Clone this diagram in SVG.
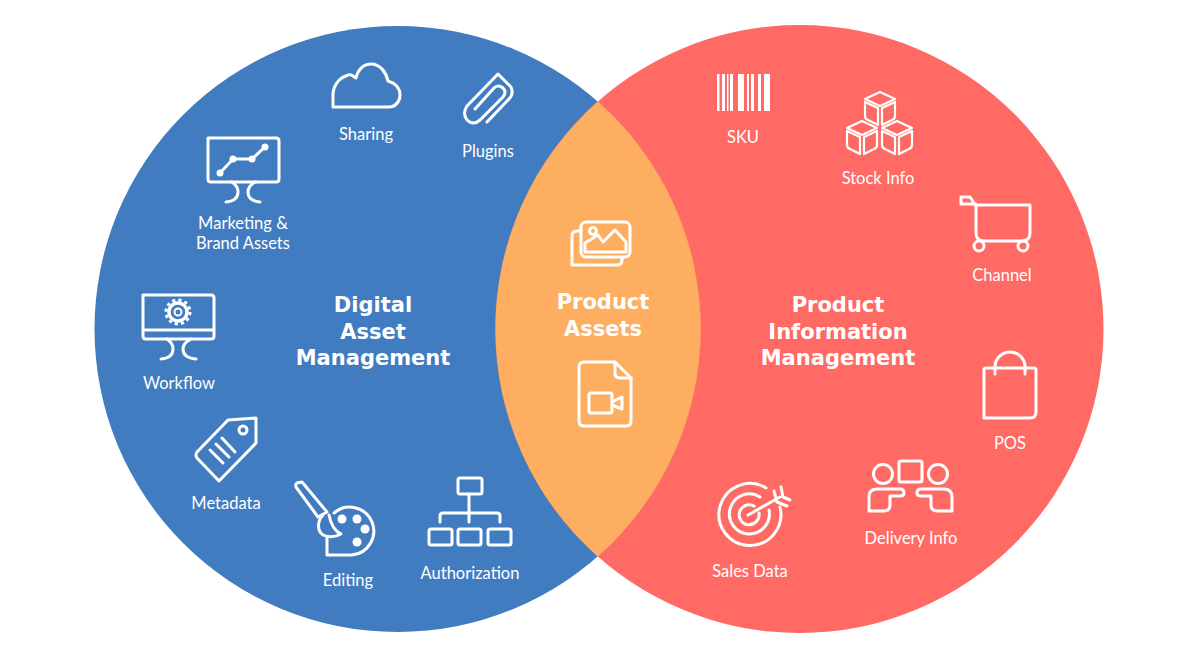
<svg xmlns="http://www.w3.org/2000/svg" width="1184" height="666" viewBox="0 0 1184 666">
<style>
.i{fill:none;stroke:#fff;stroke-width:3;stroke-linecap:round;stroke-linejoin:round}
.c{fill:none;stroke:#fff;stroke-width:2.2;stroke-linecap:round;stroke-linejoin:round}
.f{fill:#fff;stroke:none}
.l{font-family:"Lato","Noto Sans",sans-serif;font-size:16.5px;fill:#fff;text-anchor:middle}
.t{font-family:"DejaVu Sans",sans-serif;font-size:21px;font-weight:700;fill:#fff;text-anchor:middle}
</style>
<defs>
<g id="cube" class="c"><path d="M0 0L15 7L0 14L-15 7Z"/><path d="M-15 10V24Q-15 27-12 28L-2 33V16L-15 10M15 10V24Q15 27 12 28L2 33V16L15 10"/></g>
</defs>
<rect width="1184" height="666" fill="#fff"/>
<circle id="dam-circle" cx="397.500" cy="329" r="303" fill="#417cc0"/>
<circle id="pim-circle" cx="799.500" cy="329" r="304" fill="#ff6a64"/>
<path id="overlap" d="M597.750 101.600A303 303 0 0 1 597.750 556.400A304 304 0 0 1 597.750 101.600Z" fill="#fdae61" stroke="#fdae61" stroke-width=".4"/>

<g id="dam-title"><text class="t"><tspan x="373" y="312">Digital</tspan><tspan x="373" y="339">Asset</tspan><tspan x="373" y="365">Management</tspan></text></g>
<g id="assets-title"><text class="t"><tspan x="603" y="309">Product</tspan><tspan x="603" y="336">Assets</tspan></text></g>
<g id="pim-title"><text class="t"><tspan x="838" y="312">Product</tspan><tspan x="838" y="339">Information</tspan><tspan x="838" y="365">Management</tspan></text></g>

<g id="sharing"><path class="i" d="M333 107V95C333 86 339 78 346 76C350 73 353 76 356 78C358 69 364 64 371 64C380 64 386 72 388 81C395 83 400 88 400 95C400 102 395 107 389 107Z"/><text class="l" x="366" y="140">Sharing</text></g>

<g id="plugins"><path class="i" d="M487 122L509 99Q514 94 511 87L498 74L467 106Q462 113 467 120Q473 126 480 120L503 97Q507 92 503 88Q498 84 494 88L475 109"/><text class="l" x="488" y="157">Plugins</text></g>

<g id="marketing"><path class="i" d="M208 138H276Q279 138 279 141V179Q279 182 276 182H211Q208 182 208 179Z"/><path class="i" d="M231 182H232Q238 186 238 192Q238 201 226 202M256 182H255Q248 186 248 192Q248 201 260 202"/><path class="i" d="M220 173L233 159H252L265 147"/><circle class="f" cx="220" cy="173" r="3.500"/><circle class="f" cx="233" cy="159" r="3.500"/><circle class="f" cx="252" cy="159" r="3.500"/><circle class="f" cx="265" cy="147" r="3.500"/><text class="l"><tspan x="243" y="229">Marketing &amp;</tspan><tspan x="243" y="249">Brand Assets</tspan></text></g>

<g id="workflow"><path class="i" d="M143 295H211Q214 295 214 298V336Q214 339 211 339H146Q143 339 143 336ZM143 330H214"/><path class="i" d="M167 339Q173 343 173 349Q173 358 161 359M191 339Q183 343 183 349Q183 358 196 359"/><circle cx="178" cy="312" r="9" fill="none" stroke="#fff" stroke-width="3.400"/><circle cx="178" cy="312" r="12" fill="none" stroke="#fff" stroke-width="3" stroke-dasharray="3.200 3.080"/><circle cx="178" cy="312" r="3.500" fill="none" stroke="#fff" stroke-width="2"/><text class="l" x="179" y="389">Workflow</text></g>

<g id="metadata"><path class="i" d="M256 418L228 420L197 452Q195 455 197 458L219 481L256 443Z"/><circle class="i" cx="243" cy="430" r="4"/><path class="i" d="M210 450L223 463M216 444L229 457M222 438L235 452"/><text class="l" x="226" y="509">Metadata</text></g>

<g id="editing"><path class="i" d="M296 487Q295 484 297 483L302 482L327 512L318 517Z"/><path class="i" d="M323 515C317 521 317 531 323 535Q332 539 341 534C334 531 331 525 329 515"/><path class="i" d="M334 513A24 24 0 1 1 352 555H327V538"/><circle class="f" cx="342" cy="519" r="4.500"/><circle class="f" cx="357" cy="519" r="4.500"/><circle class="f" cx="365" cy="529" r="4.500"/><circle class="f" cx="357" cy="542" r="4.500"/><text class="l" x="348" y="586">Editing</text></g>

<g id="authorization"><rect class="i" x="458" y="478" width="24" height="16" rx="2"/><path class="i" d="M469 494V522M440 522V516Q440 513 443 513H497Q500 513 500 516V522"/><rect class="i" x="429" y="529" width="23" height="16" rx="2"/><rect class="i" x="458" y="529" width="23" height="16" rx="2"/><rect class="i" x="488" y="529" width="23" height="16" rx="2"/><text class="l" x="470" y="579">Authorization</text></g>

<g id="images"><rect class="i" x="581" y="222" width="49" height="35" rx="5"/><path class="i" d="M581 231H577Q572 231 572 236V265H617Q622 265 622 260V257"/><path class="i" d="M585 252V243L598 235L603 242L615 230L626 242V252Z"/><circle class="i" cx="593" cy="231" r="3.500"/></g>

<g id="video-file"><path class="i" d="M615 362H584Q579 362 579 367V421Q579 426 584 426H626Q631 426 631 421V378Z"/><path class="i" d="M615 362V373Q615 378 620 378H631"/><rect class="i" x="589" y="393" width="23" height="20" rx="2"/><path class="i" d="M612 402L622 397V409L612 405"/></g>

<g id="sku"><path class="f" d="M717 74h2.500v37h-2.500zM722 74h3v37h-3zM727 74h1.500v37h-1.500zM730 74h3v37h-3zM738 74h6v37h-6zM747 74h2v37h-2zM751 74h3v37h-3zM758 74h3v37h-3zM764 74h6v37h-6z"/><text class="l" x="743" y="143">SKU</text></g>

<g id="stock"><use href="#cube" x="880" y="92"/><use href="#cube" x="862" y="121"/><use href="#cube" x="897" y="121"/><text class="l" x="878" y="184">Stock Info</text></g>

<g id="channel"><path class="i" d="M976 205H1030V233Q1030 240 1023 241H983Q976 240 976 233V206L970 197H961V204H976"/><circle class="i" cx="979" cy="246" r="5"/><circle class="i" cx="1023" cy="246" r="5"/><text class="l" x="1002" y="281">Channel</text></g>

<g id="pos"><path class="i" d="M986 368H1034Q1036 368 1036 370V412Q1036 418 1030 418H984V370Q984 368 986 368Z"/><path class="i" d="M995 374V367A15 15 0 0 1 1025 367V374"/><text class="l" x="1010" y="449">POS</text></g>

<g id="delivery"><circle class="i" cx="883" cy="474" r="9.500"/><circle class="i" cx="938" cy="474" r="9.500"/><rect class="i" x="899" y="461" width="23" height="21" rx="2"/><path class="i" d="M869 511V497Q869 489 877 489H900Q904 489 904 493Q904 496 900 496H890V505Q890 511 883 511Z"/><path class="i" d="M952 511V497Q952 489 944 489H921Q917 489 917 493Q917 496 921 496H931V505Q931 511 938 511Z"/><text class="l" x="911" y="544">Delivery Info</text></g>

<g id="sales"><path class="i" stroke-width="4.500" d="M766 488A31 31 0 1 0 780 507"/><path class="i" stroke-width="4.500" d="M760 497A20 20 0 1 0 769 510"/><path class="i" stroke-width="4.500" d="M754 506A10 10 0 1 0 759 513"/><path class="i" stroke-width="4.500" d="M748 515L780 497"/><path class="i" stroke-width="3.500" d="M781 487L783 497L790 500M774 491L777 502L787 506"/><text class="l" x="750" y="577">Sales Data</text></g>
</svg>
